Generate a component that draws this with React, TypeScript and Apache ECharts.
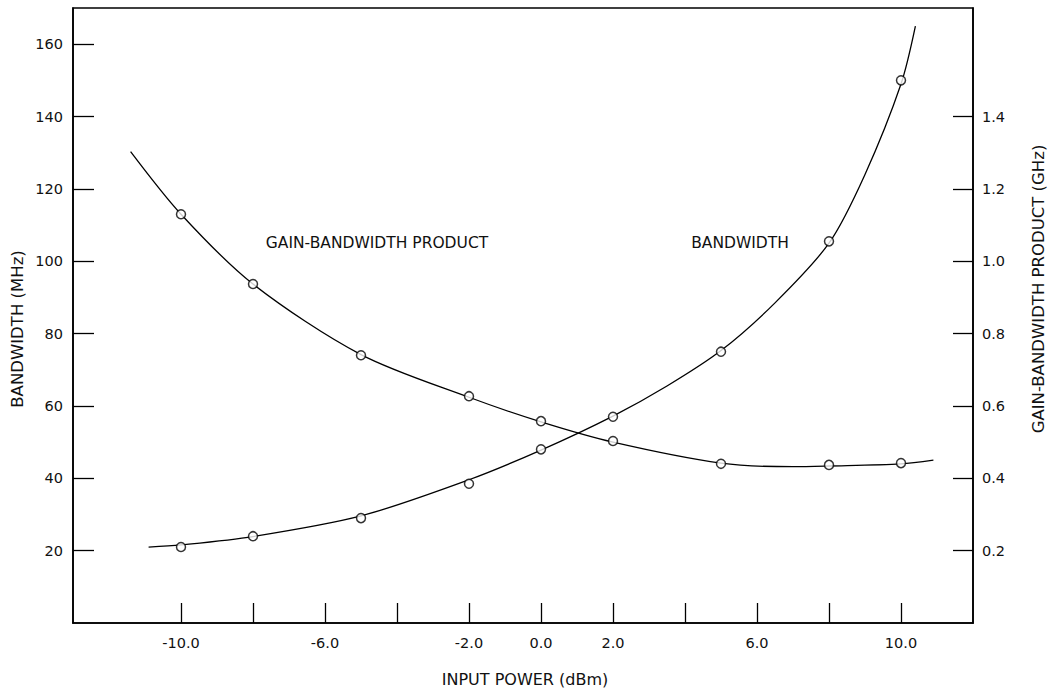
import React, { useEffect, useRef } from "react";
import * as echarts from "echarts";

// Input power (dBm) at which measurements were taken
const measuredPower = [-10, -8, -5, -2, 0, 2, 5, 8, 10];
// Bandwidth (MHz) measured points
const bandwidthMHz = [21, 24, 29, 38.5, 48, 57, 75, 105.5, 150];
// Gain-bandwidth product (GHz) measured points
const gbpGHz = [1.13, 0.937, 0.74, 0.627, 0.558, 0.503, 0.44, 0.437, 0.442];

// Fitted curves
const bwCurvePower = [-10.9, -10, -8, -5, -2, 0, 2, 3.5, 5, 6.5, 8, 9, 10, 10.4];
const bwCurveMHz = [21, 21.6, 23.9, 29.6, 39.6, 47.8, 57.2, 65.5, 75.3, 88.5, 105, 124, 149, 165];
const gbpCurvePower = [-11.4, -10, -8, -5, -2, 0, 2, 5, 7, 8, 10, 10.9];
const gbpCurveGHz = [1.303, 1.13, 0.937, 0.742, 0.624, 0.556, 0.5, 0.442, 0.432, 0.434, 0.44, 0.45];

// Axis ticks / labels
const xTickValues = [-10, -8, -6, -4, -2, 0, 2, 4, 6, 8, 10];
const xLabelValues = [-10, -6, -2, 0, 2, 6, 10];
const leftTickValues = [20, 40, 60, 80, 100, 120, 140, 160];
const rightTickValues = [0.2, 0.4, 0.6, 0.8, 1.0, 1.2, 1.4];

const FONT = "DejaVu Sans";
const INK = "#111";

export default function App() {
  const ref = useRef<HTMLDivElement>(null);

  useEffect(() => {
    if (!ref.current) return;
    const chart = echarts.init(ref.current, null, { renderer: "svg" });

    const pair = (xs: number[], ys: number[]) => xs.map((x, i) => [x, ys[i]]);
    const axisLineStyle = { color: "#000", width: 1.6 };
    const tickLineStyle = { color: "#000", width: 1.3 };

    chart.setOption({
      animation: false,
      backgroundColor: "#fff",
      textStyle: { fontFamily: FONT, color: INK },
      grid: {
        left: 73,
        top: 8,
        right: 77,
        bottom: 69,
        show: true,
        borderColor: "#000",
        borderWidth: 1.6,
        backgroundColor: "transparent",
      },
      xAxis: {
        type: "value",
        min: -13,
        max: 12,
        interval: 1,
        splitLine: { show: false },
        axisLine: { show: true, onZero: false, lineStyle: axisLineStyle },
        axisTick: {
          show: true,
          inside: true,
          length: 20,
          customValues: xTickValues,
          lineStyle: tickLineStyle,
        },
        axisLabel: {
          customValues: xLabelValues,
          formatter: (v: number) => v.toFixed(1),
          margin: 12,
          fontSize: 14.5,
          fontFamily: FONT,
          color: INK,
        },
      },
      yAxis: [
        {
          type: "value",
          position: "left",
          min: 0,
          max: 170,
          interval: 10,
          splitLine: { show: false },
          axisLine: { show: true, onZero: false, lineStyle: axisLineStyle },
          axisTick: {
            show: true,
            inside: true,
            length: 21,
            customValues: leftTickValues,
            lineStyle: tickLineStyle,
          },
          axisLabel: {
            customValues: leftTickValues,
            margin: 10,
            fontSize: 14.5,
            fontFamily: FONT,
            color: INK,
          },
        },
        {
          type: "value",
          position: "right",
          min: 0,
          max: 1.7,
          interval: 0.1,
          splitLine: { show: false },
          axisLine: { show: true, onZero: false, lineStyle: axisLineStyle },
          axisTick: {
            show: true,
            inside: true,
            length: 20,
            customValues: rightTickValues,
            lineStyle: tickLineStyle,
          },
          axisLabel: {
            customValues: rightTickValues,
            formatter: (v: number) => v.toFixed(1),
            margin: 9,
            fontSize: 14.5,
            fontFamily: FONT,
            color: INK,
          },
        },
      ],
      graphic: [
        {
          type: "text",
          x: 17,
          y: 329,
          rotation: Math.PI / 2,
          style: {
            text: "BANDWIDTH (MHz)",
            fontFamily: FONT,
            fontSize: 16.5,
            fill: INK,
            align: "center",
            verticalAlign: "middle",
          },
        },
        {
          type: "text",
          x: 1038,
          y: 289,
          rotation: Math.PI / 2,
          style: {
            text: "GAIN-BANDWIDTH PRODUCT (GHz)",
            fontFamily: FONT,
            fontSize: 16.5,
            fill: INK,
            align: "center",
            verticalAlign: "middle",
          },
        },
        {
          type: "text",
          x: 525,
          y: 679,
          style: {
            text: "INPUT POWER (dBm)",
            fontFamily: FONT,
            fontSize: 16,
            fill: INK,
            align: "center",
            verticalAlign: "middle",
          },
        },
        {
          type: "text",
          x: 377,
          y: 243,
          style: {
            text: "GAIN-BANDWIDTH PRODUCT",
            fontFamily: FONT,
            fontSize: 15.5,
            fill: INK,
            align: "center",
            verticalAlign: "middle",
          },
        },
        {
          type: "text",
          x: 740,
          y: 243,
          style: {
            text: "BANDWIDTH",
            fontFamily: FONT,
            fontSize: 15.5,
            fill: INK,
            align: "center",
            verticalAlign: "middle",
          },
        },
      ],
      series: [
        {
          name: "Bandwidth curve",
          type: "line",
          yAxisIndex: 0,
          smooth: 0.3,
          showSymbol: false,
          lineStyle: { color: "#000", width: 1.3 },
          data: pair(bwCurvePower, bwCurveMHz),
          z: 2,
        },
        {
          name: "Gain-bandwidth curve",
          type: "line",
          yAxisIndex: 1,
          smooth: 0.3,
          showSymbol: false,
          lineStyle: { color: "#000", width: 1.3 },
          data: pair(gbpCurvePower, gbpCurveGHz),
          z: 2,
        },
        {
          name: "Bandwidth",
          type: "scatter",
          yAxisIndex: 0,
          symbol: "circle",
          symbolSize: 9,
          itemStyle: { color: "#fff", borderColor: "#000", borderWidth: 1.5 },
          data: pair(measuredPower, bandwidthMHz),
          z: 3,
        },
        {
          name: "Gain-bandwidth product",
          type: "scatter",
          yAxisIndex: 1,
          symbol: "circle",
          symbolSize: 9,
          itemStyle: { color: "#fff", borderColor: "#000", borderWidth: 1.5 },
          data: pair(measuredPower, gbpGHz),
          z: 3,
        },
      ],
    });

    return () => chart.dispose();
  }, []);

  return (
    <div
      ref={ref}
      style={{ position: "fixed", left: 0, top: 0, width: 1050, height: 692, background: "#fff" }}
    />
  );
}
